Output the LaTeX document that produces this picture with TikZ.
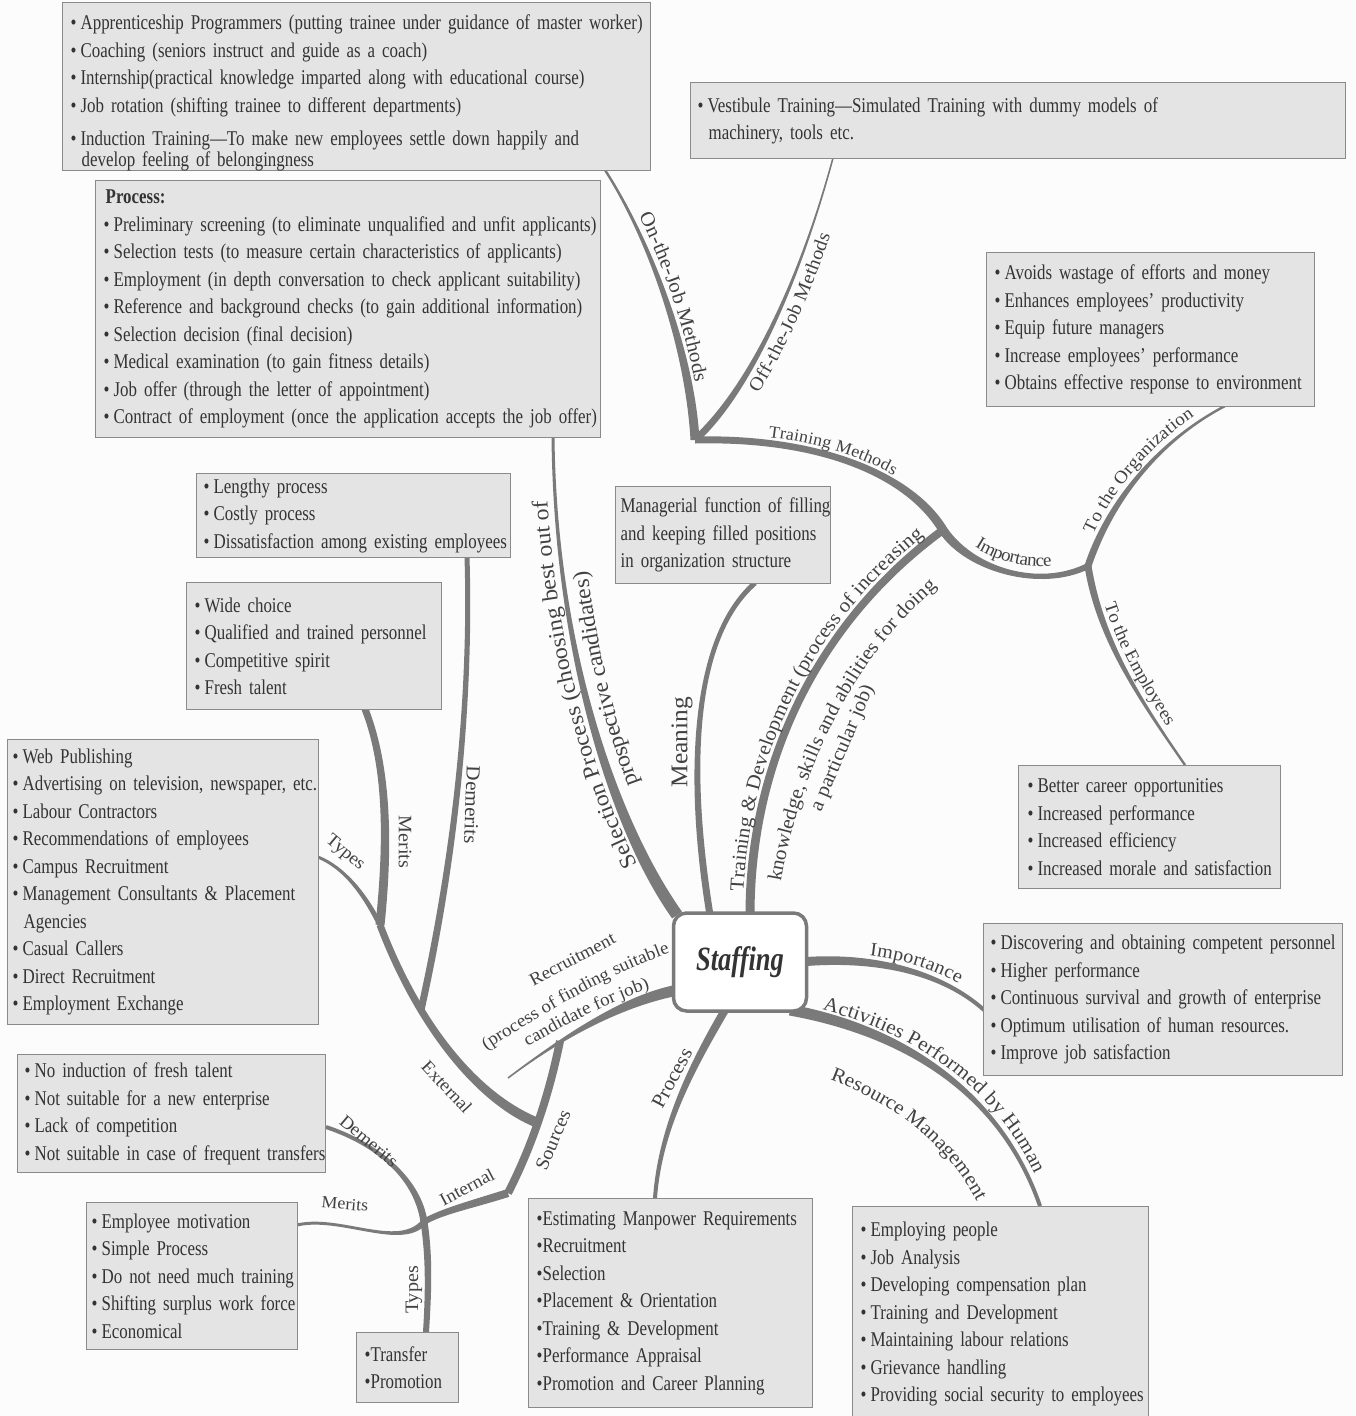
\documentclass[tikz,border=0pt]{standalone}
\usepackage{fontspec}
\setmainfont{Liberation Serif}
\newfontfamily\bxfam[FakeStretch=0.805]{Liberation Serif}
\newfontfamily\lbfam[FakeStretch=1.06]{Liberation Serif}
\newfontfamily\hubfam[FakeStretch=0.78]{Liberation Serif}
\usetikzlibrary{calc,decorations.text}

\definecolor{paper}{HTML}{FCFCFC}
\definecolor{boxfill}{HTML}{E4E4E4}
\definecolor{boxline}{HTML}{8A8A8A}
\definecolor{limb}{HTML}{7A7A7A}
\definecolor{ink}{HTML}{333333}
\definecolor{lblink}{HTML}{424242}

\newcommand\bul{\textbullet\hspace{4pt}}
\newcommand\bxfont{\bxfam\fontsize{21}{27.5}\selectfont}
\newcommand\hubfont{\hubfam\bfseries\itshape\fontsize{34}{34}\selectfont}
\newcommand\lbQ{\lbfam\fontsize{17}{17}\selectfont}
\newcommand\lbR{\lbfam\fontsize{18}{18}\selectfont}
\newcommand\lbS{\lbfam\fontsize{19}{19}\selectfont}
\newcommand\lbT{\lbfam\fontsize{20}{20}\selectfont}
\newcommand\lbU{\lbfam\fontsize{22.5}{22.5}\selectfont}
\newcommand\lbV{\lbfam\fontsize{24}{24}\selectfont}

% tapered branch: start, control 1, control 2, end, half width at start, half width at end
\newcommand\taperlimb[6]{%
  \fill[limb] ($#1!#5!90:#2$) .. controls ($#2!#5!-90:#1$) and ($#3!#6!90:#4$) .. ($#4!#6!-90:#3$)
    -- ($#4!#6!90:#3$) .. controls ($#3!#6!-90:#4$) and ($#2!#5!90:#1$) .. ($#1!#5!-90:#2$) -- cycle;}

\tikzset{
  box/.style={draw=boxline, fill=boxfill, line width=1.4pt, anchor=north west,
    inner ysep=0pt, align=left, font=\bxfont, text=ink},
  lbl/.style={inner sep=0pt, text=lblink},
}

\begin{document}
\begin{tikzpicture}[x=1pt,y=-1pt]
\fill[paper] (0,0) rectangle (1355,1416);
\useasboundingbox (0,0) rectangle (1355,1416);

% ---------- junctions and attachment points ----------
\coordinate (sSel) at (677,915);  \coordinate (eSel) at (553,437);
\coordinate (sMean) at (710,915); \coordinate (eMean) at (755,583);
\coordinate (sTD) at (750,915);   \coordinate (jTD) at (943,530);
\coordinate (jTM) at (695,440);
\coordinate (jImp) at (1088,566);
\coordinate (eOrg) at (1225,406); \coordinate (eEmp) at (1185,765);
\coordinate (eOn) at (605,170);   \coordinate (eOff) at (833,158);
\coordinate (sImp) at (800,962);  \coordinate (eImp) at (984,1010);
\coordinate (sAct) at (790,1010); \coordinate (eAct) at (1040,1206);
\coordinate (sProc) at (725,1010);\coordinate (eProc) at (655,1198);
\coordinate (sRec) at (678,990);  \coordinate (eRec) at (508,1078);
\coordinate (jSrc) at (560,1041);
\coordinate (jExt) at (538,1123);
\coordinate (jInt) at (508,1193);
\coordinate (jI) at (424,1222);
\coordinate (eIDem) at (326,1127);
\coordinate (eIMer) at (297,1225);
\coordinate (eITyp) at (426,1332);
\coordinate (jE) at (380,925);
\coordinate (jEDem) at (421,1010);
\coordinate (eEDem) at (467,557);
\coordinate (eEMer) at (365,709);
\coordinate (eETyp) at (318,857);

% ---------- branches ----------
\taperlimb{(sSel)}{(610,820)}{(555,640)}{(eSel)}{6pt}{1.5pt}
\taperlimb{(sMean)}{(688,780)}{(690,640)}{(eMean)}{3.5pt}{2.5pt}
\taperlimb{(sTD)}{(750,760)}{(820,620)}{(jTD)}{4.5pt}{4pt}
\taperlimb{(jTD)}{(910,475)}{(820,437)}{(jTM)}{4.5pt}{3.5pt}
\taperlimb{(jTD)}{(970,570)}{(1040,590)}{(jImp)}{4.5pt}{3pt}
\taperlimb{(jImp)}{(1110,500)}{(1160,440)}{(eOrg)}{3.5pt}{1.2pt}
\taperlimb{(jImp)}{(1100,640)}{(1140,700)}{(eEmp)}{3.5pt}{1.2pt}
\taperlimb{(jTM)}{(690,350)}{(650,240)}{(eOn)}{4.5pt}{1.2pt}
\taperlimb{(jTM)}{(750,390)}{(800,280)}{(eOff)}{3.5pt}{0.8pt}
\taperlimb{(sImp)}{(880,955)}{(945,975)}{(eImp)}{4.5pt}{2pt}
\taperlimb{(sAct)}{(900,1030)}{(1000,1090)}{(eAct)}{5.5pt}{2pt}
\taperlimb{(sProc)}{(690,1070)}{(660,1130)}{(eProc)}{4pt}{2pt}
\taperlimb{(sRec)}{(625,1000)}{(565,1035)}{(eRec)}{5.5pt}{0.8pt}
\taperlimb{(jSrc)}{(548,1100)}{(530,1150)}{(jInt)}{4pt}{4pt}
\taperlimb{(jInt)}{(470,1205)}{(440,1212)}{(jI)}{4pt}{3pt}
\taperlimb{(jExt)}{(480,1100)}{(420,1030)}{(jE)}{5pt}{3.5pt}
\taperlimb{(jEDem)}{(450,880)}{(472,720)}{(eEDem)}{3.5pt}{2.5pt}
\taperlimb{(jE)}{(390,830)}{(385,760)}{(eEMer)}{4.5pt}{3.5pt}
\taperlimb{(jE)}{(365,895)}{(345,868)}{(eETyp)}{2.5pt}{1.5pt}
\taperlimb{(jI)}{(418,1180)}{(380,1145)}{(eIDem)}{3.5pt}{2pt}
\taperlimb{(jI)}{(400,1250)}{(340,1215)}{(eIMer)}{3pt}{1.5pt}
\taperlimb{(jI)}{(430,1260)}{(428,1300)}{(eITyp)}{3.5pt}{3pt}

% ---------- central node ----------
\node[draw=limb, line width=3.5pt, fill=white, rounded corners=13pt,
  minimum width=133pt, minimum height=98pt, inner sep=0pt,
  font=\hubfont, text=ink] (hub) at (740,962) {Staffing};

% ---------- boxes ----------
\node[box, minimum width=588pt, minimum height=168pt, text width=572pt, inner xsep=8pt] (bOnJob) at (62,2) {%
\mbox{\rule{0pt}{27pt}\bul Apprenticeship Programmers (putting trainee under guidance of master worker)}\\
\mbox{\bul Coaching (seniors instruct and guide as a coach)}\\
\mbox{\bul Internship(practical knowledge imparted along with educational course)}\\
\mbox{\bul Job rotation (shifting trainee to different departments)}\\[6pt]
\mbox{\bul Induction Training—To make new employees settle down happily and}\\[-7pt]
\mbox{\hspace*{11pt}develop feeling of belongingness}};

\node[box, minimum width=655pt, minimum height=76pt, text width=641pt, inner xsep=7pt] (bVest) at (690,82) {%
\mbox{\bul Vestibule Training—Simulated Training with dummy models of}\\
\mbox{\hspace*{11pt}machinery, tools etc.}};

\node[box, minimum width=505pt, minimum height=257pt, text width=489pt, inner xsep=8pt] (bSel) at (95,180) {%
\mbox{\hspace*{2pt}\textbf{Process:}}\\
\mbox{\bul Preliminary screening (to eliminate unqualified and unfit applicants)}\\
\mbox{\bul Selection tests (to measure certain characteristics of applicants)}\\
\mbox{\bul Employment (in depth conversation to check applicant suitability)}\\
\mbox{\bul Reference and background checks (to gain additional information)}\\
\mbox{\bul Selection decision (final decision)}\\
\mbox{\bul Medical examination (to gain fitness details)}\\
\mbox{\bul Job offer (through the letter of appointment)}\\
\mbox{\bul Contract of employment (once the application accepts the job offer)}};

\node[box, minimum width=328pt, minimum height=154pt, text width=312pt, inner xsep=8pt] (bOrg) at (986,252) {%
\mbox{\bul Avoids wastage of efforts and money}\\
\mbox{\bul Enhances employees’ productivity}\\
\mbox{\bul Equip future managers}\\
\mbox{\bul Increase employees’ performance}\\
\mbox{\bul Obtains effective response to environment}};

\node[box, minimum width=215pt, minimum height=97pt, text width=205pt, inner xsep=5pt] (bMean) at (615,486) {%
\mbox{Managerial function of filling}\\
\mbox{and keeping filled positions}\\
\mbox{in organization structure}};

\node[box, minimum width=314pt, minimum height=84pt, text width=300pt, inner xsep=7pt] (bExtDem) at (196,473) {%
\mbox{\bul Lengthy process}\\
\mbox{\bul Costly process}\\
\mbox{\bul Dissatisfaction among existing employees}};

\node[box, minimum width=255pt, minimum height=127pt, text width=239pt, inner xsep=8pt] (bExtMer) at (186,582) {%
\mbox{\bul Wide choice}\\
\mbox{\bul Qualified and trained personnel}\\
\mbox{\bul Competitive spirit}\\
\mbox{\bul Fresh talent}};

\node[box, minimum width=311pt, minimum height=285pt, text width=301pt, inner xsep=5pt] (bExtTyp) at (7,739) {%
\mbox{\bul Web Publishing}\\
\mbox{\bul Advertising on television, newspaper, etc.}\\
\mbox{\bul Labour Contractors}\\
\mbox{\bul Recommendations of employees}\\
\mbox{\bul Campus Recruitment}\\
\mbox{\bul Management Consultants \& Placement}\\
\mbox{\hspace*{11pt}Agencies}\\
\mbox{\bul Casual Callers}\\
\mbox{\bul Direct Recruitment}\\
\mbox{\bul Employment Exchange}};

\node[box, minimum width=262pt, minimum height=123pt, text width=244pt, inner xsep=9pt] (bEmp) at (1018,765) {%
\mbox{\bul Better career opportunities}\\
\mbox{\bul Increased performance}\\
\mbox{\bul Increased efficiency}\\
\mbox{\bul Increased morale and satisfaction}};

\node[box, minimum width=359pt, minimum height=152pt, text width=345pt, inner xsep=7pt] (bImp) at (983,923) {%
\mbox{\bul Discovering and obtaining competent personnel}\\
\mbox{\bul Higher performance}\\
\mbox{\bul Continuous survival and growth of enterprise}\\
\mbox{\bul Optimum utilisation of human resources.}\\
\mbox{\bul Improve job satisfaction}};

\node[box, minimum width=308pt, minimum height=118pt, text width=294pt, inner xsep=7pt] (bIntDem) at (17,1054) {%
\mbox{\bul No induction of fresh talent}\\
\mbox{\bul Not suitable for a new enterprise}\\
\mbox{\bul Lack of competition}\\
\mbox{\bul Not suitable in case of frequent transfers}};

\node[box, minimum width=211pt, minimum height=147pt, text width=201pt, inner xsep=5pt] (bIntMer) at (86,1202) {%
\mbox{\bul Employee motivation}\\
\mbox{\bul Simple Process}\\
\mbox{\bul Do not need much training}\\
\mbox{\bul Shifting surplus work force}\\
\mbox{\bul Economical}};

\node[box, minimum width=102pt, minimum height=70pt, text width=86pt, inner xsep=8pt] (bTrans) at (356,1332) {%
\mbox{\textbullet Transfer}\\
\mbox{\textbullet Promotion}};

\node[box, minimum width=284pt, minimum height=209pt, text width=268pt, inner xsep=8pt] (bProc) at (528,1198) {%
\mbox{\textbullet Estimating Manpower Requirements}\\
\mbox{\textbullet Recruitment}\\
\mbox{\textbullet Selection}\\
\mbox{\textbullet Placement \& Orientation}\\
\mbox{\textbullet Training \& Development}\\
\mbox{\textbullet Performance Appraisal}\\
\mbox{\textbullet Promotion and Career Planning}};

\node[box, minimum width=296pt, minimum height=215pt, text width=280pt, inner xsep=8pt] (bHRM) at (852,1206) {%
\mbox{\bul Employing people}\\
\mbox{\bul Job Analysis}\\
\mbox{\bul Developing compensation plan}\\
\mbox{\bul Training and Development}\\
\mbox{\bul Maintaining labour relations}\\
\mbox{\bul Grievance handling}\\
\mbox{\bul Providing social security to employees}};

% ---------- branch labels ----------
\path[decorate, decoration={text along path, raise=8pt, text align=center,
  text={|\lbU\color{lblink}|Selection Process (choosing best out of}}]
  (sSel) .. controls (610,820) and (555,640) .. (eSel);
\path[decorate, decoration={text along path, raise=-25pt, text align=center,
  text={|\lbU\color{lblink}|prospective candidates)}}]
  (sSel) .. controls (610,820) and (555,640) .. (eSel);

\node[lbl, font=\lbV, rotate=90] (lMean) at (682,742) {Meaning};

\path[decorate, decoration={text along path, raise=7pt, text align=center,
  text={|\lbT\color{lblink}|Training {\&} Development (process of increasing}}]
  (750,950) -- (sTD) .. controls (750,760) and (820,620) .. (jTD) -- (975,507);
\path[decorate, decoration={text along path, text align=center,
  text={|\lbT\color{lblink}|knowledge, skills and abilities for doing}}]
  (774,930) -- (778,900) .. controls (795,780) and (850,655) .. (948,578) -- (975,557);
\node[lbl, font=\lbT, rotate=67] (lTD3) at (843,748) {a particular job)};

\path[decorate, decoration={text along path, raise=6pt, text align=center,
  text={|\lbQ\color{lblink}|Training Methods}}]
  (jTM) .. controls (820,437) and (910,475) .. (jTD);
\path[decorate, decoration={text along path, raise=7pt, text align=center,
  text={|\lbT\color{lblink}|On-the-Job Methods}}]
  (eOn) .. controls (650,240) and (690,350) .. (jTM);
\path[decorate, decoration={text along path, raise=-20pt, text align=center,
  text={|\lbS\color{lblink}|Off-the-Job Methods}}]
  (jTM) .. controls (750,390) and (800,280) .. (eOff);

\path[decorate, decoration={text along path, raise=10pt, text align=center,
  text={|\lbR\color{lblink}|Importance}}]
  (jTD) .. controls (970,570) and (1040,590) .. (jImp);
\path[decorate, decoration={text along path, raise=7pt, text align=center,
  text={|\lbR\color{lblink}|To the Organization}}]
  (jImp) .. controls (1110,500) and (1160,440) .. (eOrg);
\path[decorate, decoration={text along path, raise=7pt, text align=center,
  text={|\lbR\color{lblink}|To the Employees}}]
  (jImp) .. controls (1100,640) and (1140,700) .. (eEmp);

\path[decorate, decoration={text along path, raise=7pt, text align={center, left indent=34pt},
  text={|\lbS\color{lblink}|Importance}}]
  (sImp) .. controls (880,955) and (945,975) .. (eImp);

\path[decorate, decoration={text along path, raise=7pt, text align=center,
  text={|\lbT\color{lblink}|Activities Performed by Human}}]
  (sAct) .. controls (900,1030) and (1000,1090) .. (eAct);
\path[decorate, decoration={text along path, text align=center,
  text={|\lbT\color{lblink}|Resource Management}}]
  (800,1070) .. controls (890,1095) and (960,1150) .. (990,1230);

\node[lbl, font=\lbT, rotate=62] (lProc) at (672,1078) {Process};

\path[decorate, decoration={text along path, text align=center,
  text={|\lbR\color{lblink}|Recruitment}}]
  (505,1002) .. controls (540,982) and (600,952) .. (645,927);
\path[decorate, decoration={text along path, text align=center,
  text={|\lbR\color{lblink}|(process of finding suitable}}]
  (460,1068) .. controls (540,1014) and (620,966) .. (700,943);
\path[decorate, decoration={text along path, text align=center,
  text={|\lbR\color{lblink}|candidate for job)}}]
  (505,1060) .. controls (560,1027) and (610,1000) .. (675,980);

\node[lbl, font=\lbS, rotate=67] (lSrc) at (553,1140) {Sources};
\node[lbl, font=\lbR, rotate=28] (lInt) at (467,1187) {Internal};
\node[lbl, font=\lbR, rotate=-47] (lExt) at (447,1087) {External};
\node[lbl, font=\lbS, rotate=-90] (lEMer) at (405,842) {Merits};
\node[lbl, font=\lbT, rotate=-92] (lEDem) at (472,805) {Demerits};
\node[lbl, font=\lbR, rotate=-40] (lETyp) at (345,853) {Types};
\node[lbl, font=\lbR, rotate=-40] (lIDem) at (369,1141) {Demerits};
\node[lbl, font=\lbQ, rotate=-5] (lIMer) at (345,1204) {Merits};
\node[lbl, font=\lbS, rotate=90] (lITyp) at (414,1290) {Types};
\end{tikzpicture}
\end{document}
